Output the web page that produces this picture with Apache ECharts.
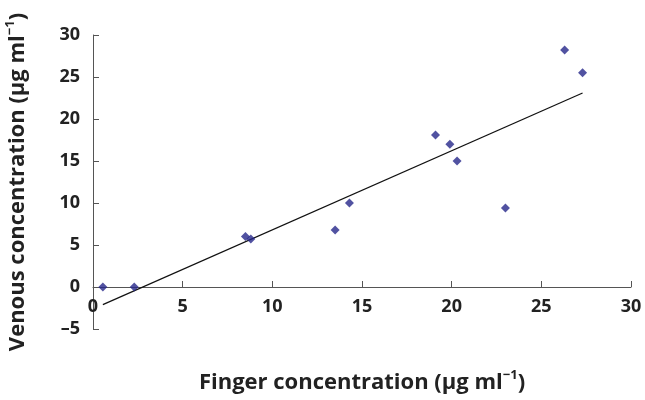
<!DOCTYPE html>
<html><head><meta charset="utf-8">
<script src="https://cdn.jsdelivr.net/npm/echarts@6/dist/echarts.min.js"></script>
<style>html,body{margin:0;padding:0;background:#fff}#c{width:645px;height:400px}</style>
</head><body><div id="c"></div>
<script>
const fingerConc = [0.55, 2.3, 8.5, 8.8, 13.5, 14.3, 19.1, 19.9, 20.3, 23.0, 26.3, 27.3];
const venousConc = [0.0, 0.0, 6.0, 5.7, 6.8, 10.0, 18.1, 17.0, 15.0, 9.4, 28.2, 25.5];
const trendSlope = 0.942;
const trendIntercept = -2.62;
const trendXRange = [0.55, 27.3];

const points = fingerConc.map((x, i) => [x, venousConc[i]]);
const trend = trendXRange.map(x => [x, trendSlope * x + trendIntercept]);

const font = '"Open Sans", "Noto Sans", sans-serif';
const chart = echarts.init(document.getElementById('c'));
const axisCol = '#555';
const richName = {
  b: { fontFamily: font, fontWeight: 'bold', fontSize: 22, color: '#222' },
  s: { fontFamily: font, fontWeight: 'bold', fontSize: 13, color: '#222', verticalAlign: 'top', padding: [0, 0, 14, 0] }
};
const yMin = -5, yMax = 30;
const gridTop = 35, gridBottom = 71, chartH = 400;
const plotH = chartH - gridTop - gridBottom;
const zeroOffset = -plotH * (0 - yMin) / (yMax - yMin);
chart.setOption({
  animation: false,
  grid: { left: 93, right: 14, top: gridTop, bottom: gridBottom, outerBoundsMode: 'none' },
  xAxis: {
    type: 'value', min: 0, max: 30, interval: 5,
    offset: zeroOffset,
    axisLine: { onZero: false, lineStyle: { color: axisCol, width: 1 } },
    axisTick: { inside: true, length: 6, lineStyle: { color: axisCol } },
    splitLine: { show: false },
    axisLabel: { color: '#222', fontFamily: font, fontWeight: 'bold', fontSize: 18, margin: 11 },
    name: '{b|Finger concentration (μg ml}{s|−1}{b|)}',
    nameLocation: 'middle', nameGap: 82,
    nameTextStyle: { rich: richName }
  },
  yAxis: {
    type: 'value', min: yMin, max: yMax, interval: 5,
    axisLine: { show: true, onZero: false, lineStyle: { color: axisCol, width: 1 } },
    axisTick: { show: true, inside: true, length: 6, lineStyle: { color: axisCol } },
    splitLine: { show: false },
    axisLabel: { color: '#222', fontFamily: font, fontWeight: 'bold', fontSize: 18, margin: 13,
      formatter: v => v < 0 ? '–' + Math.abs(v) : String(v) },
    name: '{b|Venous concentration (μg ml}{s|−1}{b|)}',
    nameLocation: 'middle', nameGap: 62, nameRotate: 90,
    nameTextStyle: { rich: richName }
  },
  series: [
    { type: 'line', data: trend, symbol: 'none', lineStyle: { color: '#111', width: 1.2 }, z: 2 },
    { type: 'scatter', data: points, symbol: 'diamond', symbolSize: 9, itemStyle: { color: '#25278a' }, z: 3 }
  ]
});
</script></body></html>
